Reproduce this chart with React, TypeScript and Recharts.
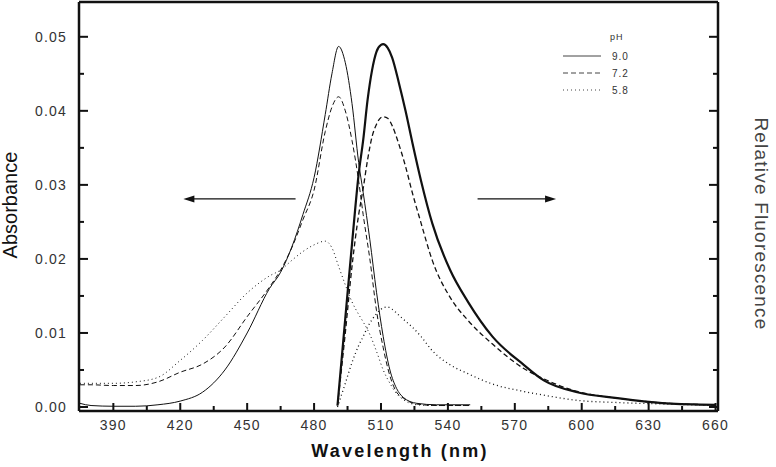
import { LineChart, Line, XAxis, YAxis, ReferenceLine } from "recharts";

// absorbance spectra (left axis)
const absWavelengths = [375, 380, 390, 400, 410, 420, 430, 440, 450, 460, 465, 470, 475, 480, 485, 488, 491, 494, 497, 500, 502, 505, 508, 511, 514, 517, 520, 526, 535, 550];
const absPH90 = [0.0005, 0.0002, 0.0001, 0.0001, 0.0003, 0.0008, 0.002, 0.005, 0.01, 0.016, 0.0182, 0.0216, 0.026, 0.031, 0.0395, 0.045, 0.0487, 0.0465, 0.041, 0.033, 0.029, 0.0226, 0.0155, 0.0095, 0.005, 0.0025, 0.0013, 0.0005, 0.0003, 0.0003];
const absPH72 = [0.003, 0.003, 0.0029, 0.0029, 0.0034, 0.0047, 0.0058, 0.0081, 0.0122, 0.0162, 0.0185, 0.0215, 0.0253, 0.0293, 0.0372, 0.0405, 0.0419, 0.04, 0.036, 0.0305, 0.026, 0.02, 0.013, 0.008, 0.0042, 0.002, 0.0012, 0.0004, 0.0002, 0.0002];
const absPH58 = [0.0032, 0.0032, 0.0032, 0.0034, 0.004, 0.0063, 0.009, 0.0122, 0.0154, 0.0177, 0.0185, 0.0198, 0.021, 0.0219, 0.0224, 0.0215, 0.019, 0.0165, 0.0142, 0.0125, 0.0115, 0.0098, 0.0075, 0.005, 0.0032, 0.0018, 0.001, 0.0003, 0.0002, 0.0002];

// fluorescence spectra (right axis, relative)
const flWavelengths = [490.5, 494, 497, 500, 502, 504, 506, 508, 510, 511, 513, 515, 518, 521, 524, 528, 533, 541, 549, 560, 574, 583, 598, 616, 638, 660];
const flPH90 = [0.0002, 0.012, 0.022, 0.0315, 0.036, 0.0415, 0.0455, 0.048, 0.0489, 0.049, 0.0485, 0.0472, 0.0438, 0.04, 0.0358, 0.0305, 0.0248, 0.0185, 0.0142, 0.0095, 0.0057, 0.0036, 0.002, 0.0012, 0.0005, 0.0003];
const flPH72 = [0.0002, 0.01, 0.019, 0.026, 0.0295, 0.0334, 0.0365, 0.0382, 0.0391, 0.0392, 0.039, 0.038, 0.0355, 0.0325, 0.029, 0.0248, 0.0198, 0.0148, 0.0117, 0.0085, 0.0052, 0.0038, 0.0021, 0.0012, 0.0005, 0.0003];
const flPH58 = [0, 0.0032, 0.006, 0.0083, 0.0095, 0.0108, 0.0118, 0.0126, 0.0132, 0.0134, 0.0135, 0.0132, 0.0124, 0.0116, 0.0108, 0.0095, 0.0076, 0.0057, 0.0045, 0.0031, 0.0021, 0.0016, 0.0009, 0.0006, 0.0004, 0.0002];

const phLabels = ["9.0", "7.2", "5.8"];
const dashes = ["0", "5 3", "1 3"];

const xTicks = [390, 405, 420, 435, 450, 465, 480, 495, 510, 525, 540, 555, 570, 585, 600, 615, 630, 645, 660];
const yTicks = [0, 0.005, 0.01, 0.015, 0.02, 0.025, 0.03, 0.035, 0.04, 0.045, 0.05];

const toPoints = (xs: number[], ys: number[]) => xs.map((x, i) => ({ x, y: ys[i] }));

const absSeries = [absPH90, absPH72, absPH58].map((s) => toPoints(absWavelengths, s));
const flSeries = [flPH90, flPH72, flPH58].map((s) => toPoints(flWavelengths, s));

const font = "'Liberation Sans', Arial, sans-serif";
const ink = "#111";

const isMajorY = (v: number) => Math.abs(Math.round(v * 100) - v * 100) < 1e-6;

function LeftTick(props: any) {
  const x = Number(props.x);
  const y = Number(props.y);
  const { payload } = props;
  const ax = x + 8;
  const major = isMajorY(payload.value);
  return (
    <g>
      <rect x={ax} y={y - 1} width={major ? 9 : 5} height={2} fill={ink} />
      {major && (
        <text x={x - 4} y={y} dy={5} textAnchor="end" fontSize={14} fill="#333" letterSpacing={1.2} fontFamily={font}>
          {payload.value.toFixed(2)}
        </text>
      )}
    </g>
  );
}

function RightTick(props: any) {
  const x = Number(props.x);
  const y = Number(props.y);
  const ax = x - 8;
  const len = isMajorY(props.payload.value) ? 9 : 5;
  return (
    <g>
      <rect x={ax - len} y={y - 1} width={len} height={2} fill={ink} />
    </g>
  );
}

function BottomTick(props: any) {
  const x = Number(props.x);
  const y = Number(props.y);
  const { payload } = props;
  const ay = y - 8;
  const major = payload.value % 30 === 0;
  const len = major ? 8 : 5;
  return (
    <g>
      <rect x={x - 1} y={ay - len} width={2} height={len} fill={ink} />
      {major && (
        <text x={x} y={ay + 19} textAnchor="middle" fontSize={14} fill="#333" letterSpacing={1.2} fontFamily={font}>
          {payload.value}
        </text>
      )}
    </g>
  );
}

function Arrow(props: any) {
  const { x1, y1, x2, y2 } = props;
  const dir = x2 > x1 ? 1 : -1;
  return (
    <g>
      <line x1={x1} y1={y1} x2={x2 - dir * 8} y2={y2} stroke={ink} strokeWidth={1.2} />
      <polygon points={`${x2},${y2} ${x2 - dir * 11},${y2 - 3.5} ${x2 - dir * 11},${y2 + 3.5}`} fill={ink} />
    </g>
  );
}

export default function App() {
  return (
    <div style={{ position: "fixed", left: 0, top: 0, width: 776, height: 467, background: "#fff" }}>
      <LineChart width={776} height={467} margin={{ top: 1, right: 57, bottom: 55, left: 78 }}>
        <XAxis
          xAxisId="b"
          type="number"
          dataKey="x"
          domain={[374.6, 661.1]}
          ticks={xTicks}
          interval={0}
          height={1}
          tickSize={0}
          tickMargin={8}
          tick={<BottomTick />}
          axisLine={{ stroke: ink, strokeWidth: 2.5 }}
          allowDataOverflow
        />
        <XAxis xAxisId="t" orientation="top" type="number" domain={[374.6, 661.1]} height={1} tick={false} tickLine={false} axisLine={{ stroke: ink, strokeWidth: 2.5 }} />
        <YAxis
          yAxisId="abs"
          type="number"
          domain={[-0.00054, 0.0547]}
          ticks={yTicks}
          interval={0}
          width={1}
          tickSize={0}
          tickMargin={8}
          tick={<LeftTick />}
          axisLine={{ stroke: ink, strokeWidth: 2.5 }}
          allowDataOverflow
        />
        <YAxis
          yAxisId="fl"
          orientation="right"
          type="number"
          domain={[-0.00054, 0.0547]}
          ticks={yTicks}
          interval={0}
          width={1}
          tickSize={0}
          tickMargin={8}
          tick={<RightTick />}
          axisLine={{ stroke: ink, strokeWidth: 2.5 }}
          allowDataOverflow
        />
        {absSeries.map((pts, i) => (
          <Line
            key={"abs" + i}
            xAxisId="b"
            yAxisId="abs"
            data={pts}
            dataKey="y"
            name={phLabels[i]}
            type="monotone"
            stroke={ink}
            strokeWidth={1}
            strokeDasharray={dashes[i]}
            dot={false}
            isAnimationActive={false}
          />
        ))}
        {flSeries.map((pts, i) => (
          <Line
            key={"fl" + i}
            xAxisId="b"
            yAxisId="fl"
            data={pts}
            dataKey="y"
            name={phLabels[i] + " fl"}
            type="monotone"
            stroke={ink}
            strokeWidth={i === 0 ? 2.2 : 1.3}
            strokeDasharray={dashes[i]}
            dot={false}
            isAnimationActive={false}
          />
        ))}
        <ReferenceLine xAxisId="b" yAxisId="abs" segment={[{ x: 471.7, y: 0.0281 }, { x: 421.4, y: 0.0281 }]} shape={<Arrow />} />
        <ReferenceLine xAxisId="b" yAxisId="abs" segment={[{ x: 553.3, y: 0.0281 }, { x: 588.5, y: 0.0281 }]} shape={<Arrow />} />
      </LineChart>
      <svg width={776} height={467} style={{ position: "absolute", left: 0, top: 0, pointerEvents: "none", fontFamily: font }}>
        <text x={0} y={0} transform="translate(17,205) rotate(-90)" textAnchor="middle" fontSize={20} fill="#111">
          Absorbance
        </text>
        <text x={0} y={0} transform="translate(755,224) rotate(90)" textAnchor="middle" fontSize={19} fill="#444" letterSpacing={1.2}>
          Relative Fluorescence
        </text>
        <text x={400} y={457} textAnchor="middle" fontSize={18} fontWeight="bold" fill="#111" letterSpacing={2.2}>
          Wavelength (nm)
        </text>
        <g transform="translate(558,31)">
          <text x={52} y={9} fontSize={9} fill="#333" letterSpacing={1}>pH</text>
          {phLabels.map((label, i) => (
            <g key={label}>
              <line x1={5} y1={25 + i * 17} x2={43} y2={25 + i * 17} stroke="#444" strokeWidth={1} strokeDasharray={dashes[i]} />
              <text x={54} y={29 + i * 17} fontSize={10} fill="#333" letterSpacing={1}>{label}</text>
            </g>
          ))}
        </g>
      </svg>
    </div>
  );
}
